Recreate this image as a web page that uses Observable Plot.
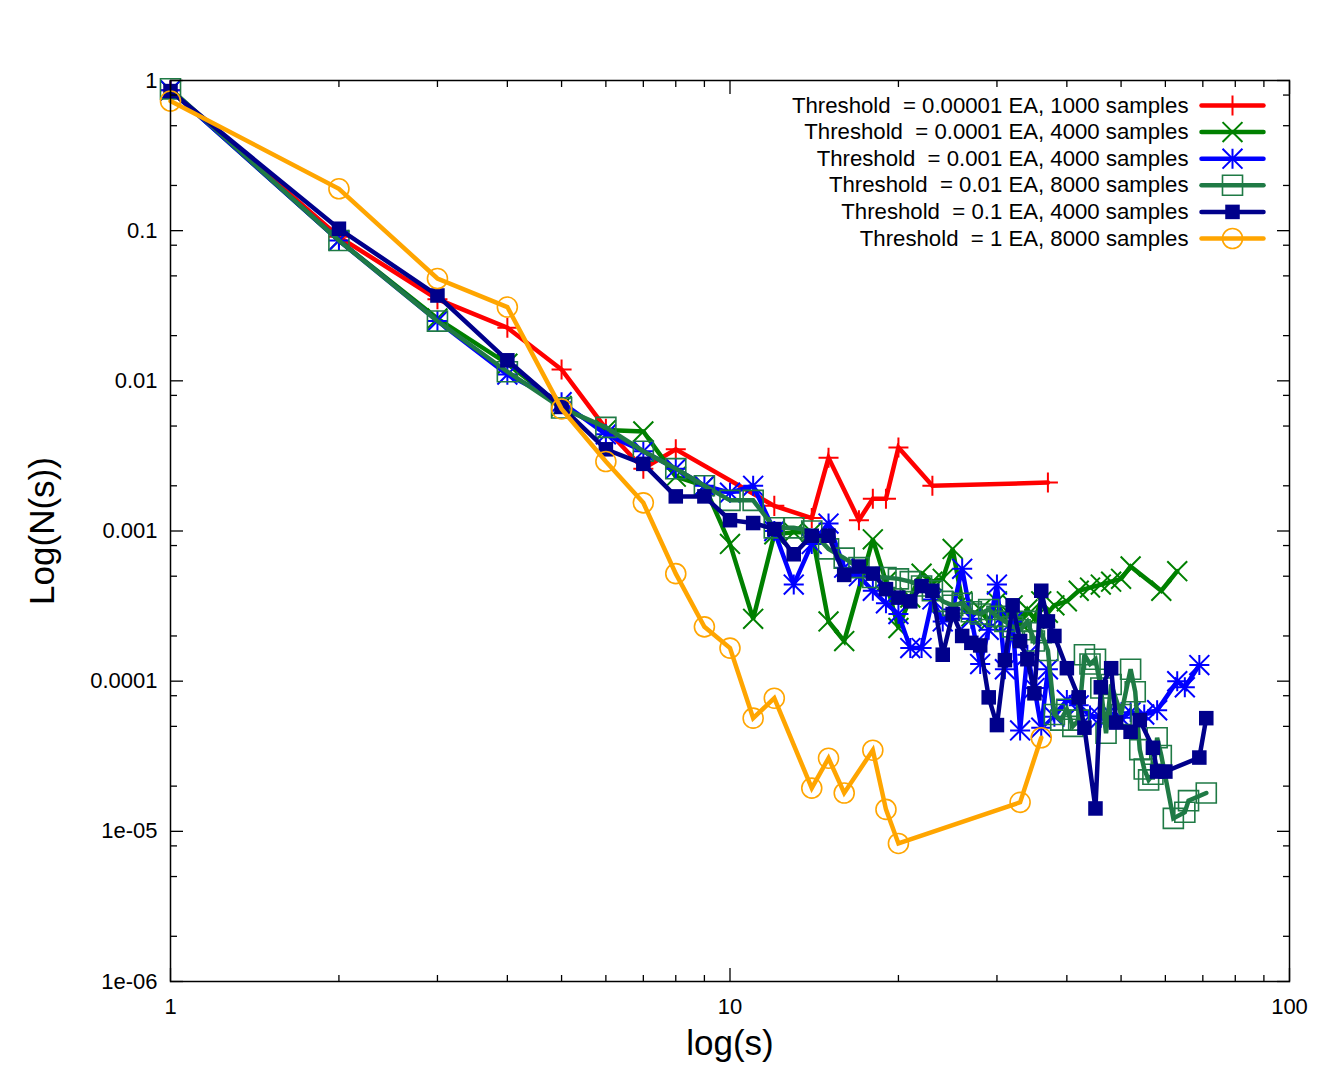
<!DOCTYPE html>
<html><head><meta charset="utf-8">
<script src="https://cdn.jsdelivr.net/npm/d3@7"></script>
<script src="https://cdn.jsdelivr.net/npm/@observablehq/plot@0.6"></script>
<style>
html,body{margin:0;padding:0;background:#fff;}
#chart svg{display:block;}
</style>
</head><body><div id="chart"></div>
<script>
// ---- data ----
const xMajor = [1, 10, 100];
const xMinor = [2,3,4,5,6,7,8,9,20,30,40,50,60,70,80,90];
const xTickLabels = ["1","10","100"];
const yMajor = [1, 0.1, 0.01, 0.001, 0.0001, 0.00001, 0.000001];
const yMinor = [0.8,0.5,0.2, 0.08,0.05,0.02, 0.008,0.005,0.002, 0.0008,0.0005,0.0002,
                0.00008,0.00005,0.00002, 0.000008,0.000005,0.000002];
const yTickLabels = ["1","0.1","0.01","0.001","0.0001","1e-05","1e-06"];

const legendLabels = [
  "Threshold\u00a0 = 0.00001 EA, 1000 samples",
  "Threshold\u00a0 = 0.0001 EA, 4000 samples",
  "Threshold\u00a0 = 0.001 EA, 4000 samples",
  "Threshold\u00a0 = 0.01 EA, 8000 samples",
  "Threshold\u00a0 = 0.1 EA, 4000 samples",
  "Threshold\u00a0 = 1 EA, 8000 samples"
];

const sRed = [1,2,3,4,5,6,7,8,12,14,15,17,18,19,20,23,37];
const nRed = [0.86,0.091,0.035,0.0226,0.0119,0.0048,0.0026,0.0035,0.00147,0.00122,0.00307,0.00118,0.00164,0.00164,0.0036,0.002,0.0021];

const sGreen = [1,2,3,4,5,6,7,8,9,10,11,12,13,14,15,16,18,19,20,21,22,23,24,25,26,27,28,29,30,31,32,33,34,35,36,37,38,40,42,44,46,48,50,52,59,63];
const nGreen = [0.86,0.086,0.026,0.013,0.0068,0.0047,0.0046,0.0023,0.002,0.00082,0.00026,0.00095,0.00098,0.00098,0.00025,0.000185,0.00088,0.00046,0.000226,0.00036,0.00052,0.00046,0.00048,0.00076,0.00034,0.00027,0.0003,0.00025,0.00034,0.00026,0.00032,0.000245,0.0003,0.00026,0.00034,0.000285,0.00032,0.00034,0.0004,0.00042,0.00044,0.00046,0.00048,0.00058,0.0004,0.00054];

const sBlue = [1,2,3,4,5,6,7,8,9,10,11,12,13,14,15,16,17,18,19,20,21,22,23,24,25,26,27,28,29,30,31,32,33,34,35,36,37,38,40,42,44,46,48,50,52,55,58,63,65,69];
const nBlue = [0.86,0.086,0.025,0.011,0.0072,0.0044,0.0034,0.0026,0.002,0.0018,0.002,0.001,0.00044,0.00082,0.00112,0.00057,0.0005,0.0004,0.00033,0.00028,0.000166,0.000166,0.00035,0.00025,0.0003,0.00056,0.00026,0.00013,0.00022,0.00044,0.00012,0.00025,0.000047,0.00015,0.00009,0.000049,0.00012,0.000058,0.000075,0.000069,0.000059,0.000057,0.00006,0.000057,0.000062,0.00006,0.000064,0.0001,0.000091,0.000128];

const sDkGreen = [1,2,3,4,5,6,7,8,9,10,11,12,13,14,15,16,17,18,19,20,21,22,23,24,25,26,27,28,29,30,31,32,33,34,35,36,37,38,39,40,41,42,43,44,45,46,47,48,50,52,53,54,55,56,57,58,59,62,65,66,71];
const nDkGreen = [0.88,0.086,0.025,0.0115,0.0066,0.0049,0.0034,0.0026,0.002,0.0016,0.0016,0.00105,0.00105,0.001,0.00076,0.00066,0.00057,0.00049,0.00049,0.00048,0.00046,0.00043,0.0004,0.00034,0.00032,0.00033,0.00029,0.00028,0.0003,0.00027,0.00025,0.00023,0.00022,0.00025,0.000185,0.00021,0.00016,0.00006,0.000055,0.000065,0.00005,0.000055,0.00015,0.00013,0.00014,0.00009,0.000045,0.000095,0.00006,0.00012,0.000085,0.000035,0.000026,0.000022,0.000024,0.000042,0.000032,0.0000122,0.0000134,0.000016,0.000018];

const sNavy = [1,2,3,4,5,6,7,8,9,10,11,12,13,14,15,16,17,18,19,20,21,22,23,24,25,26,27,28,29,30,31,32,33,34,35,36,37,38,40,42,43,45,46,48,49,52,54,57,58,60,69,71];
const nNavy = [0.85,0.103,0.037,0.0137,0.0067,0.0035,0.0028,0.0017,0.0017,0.00118,0.00113,0.00103,0.0007,0.00093,0.00093,0.00051,0.00058,0.00052,0.00041,0.00036,0.00034,0.00043,0.0004,0.00015,0.00028,0.0002,0.00018,0.000173,0.000078,0.000051,0.000138,0.00032,0.000185,0.00014,0.000083,0.0004,0.00025,0.0002,0.000122,0.000078,0.000049,0.0000142,0.000091,0.000122,0.000053,0.000046,0.000055,0.000036,0.000025,0.000025,0.000031,0.0000567];

const sOrange = [1,2,3,4,5,6,7,8,9,10,11,12,14,15,16,18,19,20,33,36];
const nOrange = [0.73,0.19,0.048,0.031,0.0065,0.0029,0.00154,0.00052,0.00023,0.000166,0.0000567,0.000077,0.0000194,0.0000307,0.000018,0.0000347,0.000014,0.0000083,0.0000156,0.000042];

// ---- styles ----
const series = [
  {s: sRed, n: nRed, color: "#ff0000", syms: [{symbol: "plus", r: 6.5, fill: "none"}]},
  {s: sGreen, n: nGreen, color: "#008000", syms: [{symbol: "times", r: 9.1, fill: "none"}]},
  {s: sBlue, n: nBlue, color: "#0000ff", syms: [{symbol: "plus", r: 6.5, fill: "none"}, {symbol: "times", r: 9.1, fill: "none"}]},
  {s: sDkGreen, n: nDkGreen, color: "#1f7a45", syms: [{symbol: "square", r: 11.3, fill: "none", sw: 1.6}]},
  {s: sNavy, n: nNavy, color: "#00008b", syms: [{symbol: "square", r: 8.2, fill: "fill"}]},
  {s: sOrange, n: nOrange, color: "#ffa500", syms: [{symbol: "circle", r: 10, fill: "none", sw: 1.6}]}
];

const FONT = "'Liberation Sans', Arial, Helvetica, sans-serif";
const LW = 4.5;
const marks = [];

series.forEach((ser, k) => {
  const rows = ser.s.map((s, i) => ({s, n: ser.n[i]}));
  marks.push(Plot.line(rows, {x: "s", y: "n", stroke: ser.color, strokeWidth: LW, strokeLinejoin: "miter", strokeMiterlimit: 3}));
  ser.syms.forEach(sy => {
    marks.push(Plot.dot(rows, {x: "s", y: "n", symbol: sy.symbol, r: sy.r,
      stroke: sy.fill === "fill" ? "none" : ser.color,
      fill: sy.fill === "fill" ? ser.color : "none",
      strokeWidth: sy.sw || 2}));
  });
});

// legend
const lineShape = {draw(context, l) { context.moveTo(0, 0); context.lineTo(0, -l); }};
series.forEach((ser, k) => {
  const dy = 25 + 26.6 * k;
  marks.push(Plot.text([legendLabels[k]], {frameAnchor: "top-right", dx: -101, dy, text: d => d,
    textAnchor: "end", lineAnchor: "middle", fontSize: 22.2, fontFamily: FONT, fill: "black"}));
  marks.push(Plot.vector([0], {frameAnchor: "top-right", dx: -57, dy, length: 62, rotate: 90,
    anchor: "middle", shape: lineShape, stroke: ser.color, strokeWidth: LW}));
  ser.syms.forEach(sy => {
    marks.push(Plot.dot([0], {frameAnchor: "top-right", dx: -57, dy, symbol: sy.symbol, r: sy.r,
      stroke: sy.fill === "fill" ? "none" : ser.color,
      fill: sy.fill === "fill" ? ser.color : "none",
      strokeWidth: sy.sw || 2}));
  });
});

// axes: inward ticks on all four sides
const tk = (fn, data, o) => fn(data, Object.assign({fill: "none", label: null, stroke: "black", strokeWidth: 1.3}, o));
marks.push(
  tk(Plot.axisX, xMajor, {anchor: "bottom", tickSize: 13, dy: -13}),
  tk(Plot.axisX, xMinor, {anchor: "bottom", tickSize: 6, dy: -6}),
  tk(Plot.axisX, xMajor, {anchor: "top", tickSize: 13, dy: 13}),
  tk(Plot.axisX, xMinor, {anchor: "top", tickSize: 6, dy: 6}),
  tk(Plot.axisY, yMajor, {anchor: "left", tickSize: 13, dx: 13}),
  tk(Plot.axisY, yMinor, {anchor: "left", tickSize: 7, dx: 7}),
  tk(Plot.axisY, yMajor, {anchor: "right", tickSize: 13, dx: -13}),
  tk(Plot.axisY, yMinor, {anchor: "right", tickSize: 7, dx: -7}),
  Plot.axisX(xMajor, {anchor: "bottom", tickSize: 0, tickPadding: 17, label: null,
    tickFormat: d => xTickLabels[xMajor.indexOf(d)], fontSize: 22, fontFamily: FONT, fill: "black"}),
  Plot.axisY(yMajor, {anchor: "left", tickSize: 0, tickPadding: 13, label: null,
    tickFormat: d => yTickLabels[yMajor.indexOf(d)], fontSize: 22, fontFamily: FONT, fill: "black"}),
  Plot.frame({stroke: "black", strokeWidth: 1.5}),
  Plot.text(["log(s)"], {frameAnchor: "bottom", dy: 62, text: d => d, lineAnchor: "middle", textAnchor: "middle",
    fontSize: 35, fontFamily: FONT, fill: "black"}),
  Plot.text(["Log(N(s))"], {frameAnchor: "left", dx: -128, rotate: -90, text: d => d, lineAnchor: "middle", textAnchor: "middle",
    fontSize: 35, fontFamily: FONT, fill: "black"})
);

const chart = Plot.plot({
  width: 1334,
  height: 1067,
  marginLeft: 170,
  marginRight: 45,
  marginTop: 80,
  marginBottom: 86,
  style: {fontFamily: FONT, background: "white"},
  x: {type: "log", domain: [1, 100]},
  y: {type: "log", domain: [1e-6, 1]},
  marks
});
document.getElementById("chart").appendChild(chart);
</script>
</body></html>
